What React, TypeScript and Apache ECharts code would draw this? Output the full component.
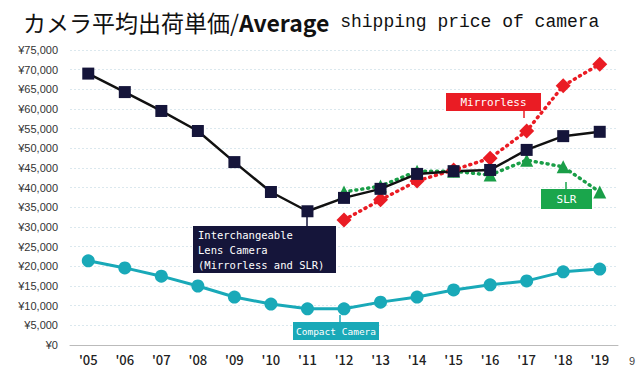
import React, { useEffect, useRef } from "react";
import * as echarts from "echarts";

const years = ["'05", "'06", "'07", "'08", "'09", "'10", "'11", "'12", "'13", "'14", "'15", "'16", "'17", "'18", "'19"];
const interchangeable = [69000, 64300, 59500, 54400, 46500, 38900, 34000, 37400, 39700, 43500, 44200, 44500, 49600, 53100, 54200];
const mirrorless = [null, null, null, null, null, null, null, 31800, 36900, 41700, 44500, 47500, 54400, 65900, 71400];
const slr = [null, null, null, null, null, null, null, 38900, 40400, 44200, 44200, 43200, 47000, 45300, 38900];
const compact = [21400, 19600, 17500, 15000, 12200, 10400, 9200, 9200, 10900, 12200, 14000, 15300, 16300, 18600, 19300];

const labelFont = "'DejaVu Sans Mono', monospace";

export default function App() {
  const ref = useRef<HTMLDivElement>(null);
  useEffect(() => {
    const chart = echarts.init(ref.current!, undefined, { renderer: "svg" });
    const callout = (x: number, y: number, w: number, h: number, fill: string, lines: string, px: number, py0: number, py1: number, fontSize = 11, align = "left") => ({
      type: "group",
      z: 100,
      children: [
        { type: "line", z: 100, shape: { x1: px, y1: py0, x2: px, y2: py1 }, style: { stroke: fill, lineWidth: 1.5 } },
        { type: "rect", z: 100, shape: { x, y, width: w, height: h }, style: { fill } },
        {
          type: "text",
          z: 101,
          x: align === "center" ? x + w / 2 : x + 5,
          y: y + h / 2,
          style: {
            text: lines,
            fill: "#fff",
            font: `${fontSize}px ${labelFont}`,
            verticalAlign: "middle",
            align,
            lineHeight: 15,
          },
        },
      ],
    });
    chart.setOption({
      animation: false,
      backgroundColor: "#fff",
      title: {
        text: "{jp|カメラ平均出荷単価/}{b|Average}{n| shipping price of camera}",
        left: 18,
        top: 5,
        textStyle: {
          fontWeight: "normal",
          rich: {
            jp: { fontSize: 23, fontWeight: "normal", fontFamily: "'Noto Sans CJK JP'", color: "#111" },
            b: { fontSize: 23, fontWeight: "bold", fontFamily: "'Noto Sans CJK JP'", color: "#111" },
            n: { fontSize: 18, fontWeight: "normal", fontFamily: "'Liberation Mono', monospace", color: "#111" },
          },
        },
      },
      grid: { left: 70, right: 22, top: 50, bottom: 24 },
      xAxis: {
        type: "category",
        data: years,
        axisLine: { lineStyle: { color: "#bbb" } },
        axisTick: { lineStyle: { color: "#bbb" }, length: 4 },
        axisLabel: { color: "#222", fontSize: 13, fontWeight: 500, fontFamily: "'Noto Sans CJK JP'", margin: 8 },
      },
      yAxis: {
        type: "value",
        min: 0,
        max: 75000,
        interval: 5000,
        axisLine: { show: false },
        axisTick: { show: false },
        axisLabel: {
          color: "#333",
          fontSize: 11,
          fontFamily: "'Liberation Sans', Arial",
          margin: 12,
          formatter: (v: number) => "¥" + v.toLocaleString("en-US"),
        },
        splitLine: { lineStyle: { color: "#dbe8ee", type: [2, 2] } },
      },
      series: [
        {
          name: "Compact Camera",
          type: "line",
          data: compact,
          symbol: "circle",
          symbolSize: 13,
          itemStyle: { color: "#19a9b8" },
          lineStyle: { color: "#19a9b8", width: 3 },
        },
        {
          name: "Mirrorless",
          type: "line",
          data: mirrorless,
          symbol: "diamond",
          symbolSize: 15,
          itemStyle: { color: "#ea1c24" },
          lineStyle: { color: "#ea1c24", width: 3.5, type: [1, 5], cap: "round" },
        },
        {
          name: "SLR",
          type: "line",
          data: slr,
          symbol: "triangle",
          symbolSize: 13,
          itemStyle: { color: "#1a9e48" },
          lineStyle: { color: "#1a9e48", width: 3.5, type: [1, 5], cap: "round" },
        },
        {
          name: "Interchangeable",
          type: "line",
          data: interchangeable,
          symbol: "rect",
          symbolSize: 12,
          itemStyle: { color: "#15153a" },
          lineStyle: { color: "#111", width: 2.5 },
        },
      ],
      graphic: [
        callout(193, 226, 143, 47, "#15153a", "Interchangeable\nLens Camera\n(Mirrorless and SLR)", 307, 216, 226, 10.5),
        callout(446, 93, 95, 18, "#ea1c24", "Mirrorless", 524, 111, 118, 11, "center"),
        callout(541, 189, 51, 20, "#1aa64c", "SLR", 566, 182, 189, 11, "center"),
        callout(293, 322, 86, 18, "#19a9b8", "Compact Camera", 340, 315, 322, 9.5, "center"),
        {
          type: "text",
          left: 629,
          top: 355,
          style: { text: "9", fill: "#444", font: "11px sans-serif" },
        },
      ],
    });
    return () => chart.dispose();
  }, []);
  return <div ref={ref} style={{ width: 640, height: 369, position: "absolute", left: 0, top: 0 }} />;
}
